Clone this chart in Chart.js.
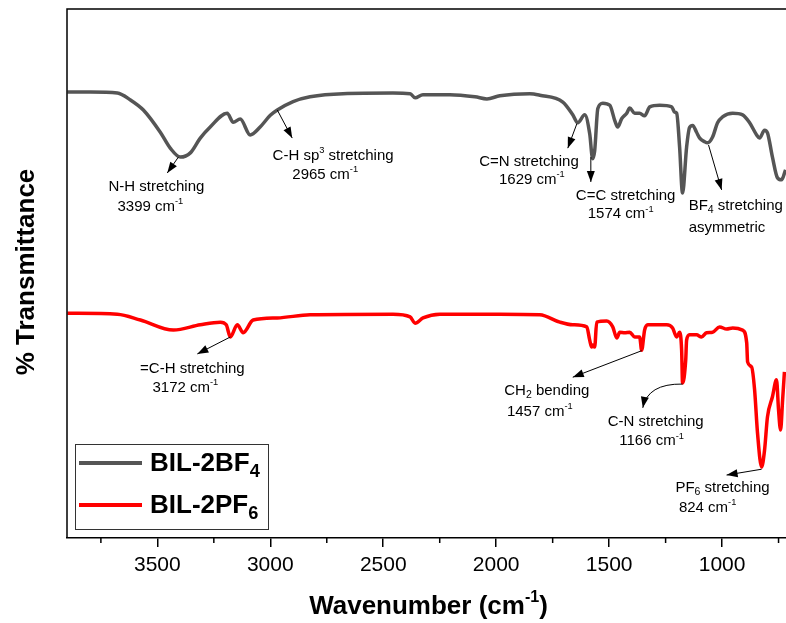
<!DOCTYPE html>
<html><head><meta charset="utf-8">
<script src="https://cdn.jsdelivr.net/npm/chart.js@4/dist/chart.umd.min.js"></script>
<style>html,body{margin:0;padding:0;background:#fff;}canvas{display:block;}</style>
</head><body>
<canvas id="c" width="786" height="623"></canvas>
<script>
// ---- data ----
const bf4Wn = [3898,3796,3677,3619,3562,3487,3443,3398,3354,3310,3266,3191,3164,3133,3089,3045,3000,2969,2899,2824,2678,2457,2381,2359,2324,2205,2094,2041,1984,1851,1807,1705,1661,1639,1608,1586,1573,1564,1550,1528,1497,1475,1462,1444,1422,1409,1387,1365,1343,1320,1276,1223,1210,1201,1188,1175,1157,1144,1130,1113,1099,1077,1064,1042,1020,998,953,909,878,847,834,812,799,777,755,737,719];
const bf4T  = [84.3,84.3,84.1,82.8,80.9,76.7,73.7,72.0,72.8,75.6,77.7,80.3,78.6,79.2,76.2,77.7,79.9,80.9,82.5,83.4,84.0,84.1,84.0,83.2,83.8,83.8,83.4,83.0,83.6,84.0,83.7,82.4,80.0,78.5,80.0,76.4,71.7,73.2,81.2,82.2,81.8,78.9,77.7,79.3,80.3,81.3,80.3,80.3,79.8,81.5,81.8,81.5,80.5,80.3,73.9,65.2,73.9,77.6,78.0,76.7,75.6,74.9,74.7,75.8,78.5,79.6,80.3,80.0,78.5,76.2,75.6,77.1,76.6,72.0,68.1,67.7,69.6];
const pf6Wn = [3898,3677,3575,3429,3310,3221,3195,3177,3146,3120,3076,2969,2824,2457,2381,2359,2324,2249,1984,1807,1718,1661,1599,1586,1577,1573,1564,1555,1511,1484,1466,1453,1431,1409,1387,1365,1356,1343,1329,1245,1219,1201,1188,1179,1175,1161,1157,1144,1113,1091,1069,1042,1011,980,953,909,891,887,869,856,843,825,812,799,777,759,750,741,732,724];
const pf6T  = [42.5,42.3,41.2,39.3,40.3,40.8,40.3,38.0,40.3,38.8,41.2,41.6,42.2,42.3,41.8,40.6,41.6,42.3,42.3,42.2,40.8,40.3,39.9,37.4,36.1,36.5,36.1,40.8,41.0,39.9,37.8,38.9,38.8,38.9,38.0,38.0,35.5,39.3,40.3,40.3,39.7,38.0,38.9,35.5,29.3,33.6,37.4,38.4,38.4,38.0,38.8,38.9,39.9,39.5,39.7,39.3,36.9,33.3,32.3,28.0,19.8,13.4,16.6,22.9,26.7,29.9,24.2,20.4,26.1,31.4];
const seriesNames = ['BIL-2BF_{4}', 'BIL-2PF_{6}'];
const seriesColors = ['#555555', '#ff0000'];
const majorTicks = [3500, 3000, 2500, 2000, 1500, 1000];
const minorTicks = [3750, 3250, 2750, 2250, 1750, 1250, 750];
const xTitle = 'Wavenumber (cm^{-1})';
const yTitle = '% Transmittance';
// annotations: arrow start/end in data space (wavenumber, %T), label lines and label anchor
const annotations = [
  {from:[3407,72.0], to:[3456,69.0], lines:['N-H stretching','3399 cm^{-1}'], at:[[3504,66.4],[3531,62.6]], align:'center'},
  {from:[2969,80.9], to:[2903,75.6], lines:['C-H sp^{3} stretching','2965 cm^{-1}'], at:[[2722,72.2],[2757,68.6]], align:'center'},
  {from:[1643,78.3], to:[1683,73.7], lines:['C=N stretching','1629 cm^{-1}'], at:[[1855,71.1],[1842,67.7]], align:'center'},
  {from:[1581,72.0], to:[1581,67.3], lines:['C=C stretching','1574 cm^{-1}'], at:[[1427,64.7],[1449,61.2]], align:'center'},
  {from:[1060,74.3], to:[1002,65.8], lines:['BF_{4} stretching','asymmetric'], at:[[1148,62.8],[1148,58.6]], align:'left'},
  {from:[3177,38.0], to:[3323,34.8], lines:['=C-H stretching','3172 cm^{-1}'], at:[[3345,31.9],[3376,28.4]], align:'center'},
  {from:[1356,35.4], to:[1661,30.4], lines:['CH_{2} bending','1457 cm^{-1}'], at:[[1776,27.8],[1807,23.8]], align:'center'},
  {from:[1175,29.1], to:[1351,24.6], ctrl:[1330,29.2], lines:['C-N stretching','1166 cm^{-1}'], at:[[1294,21.9],[1312,18.3]], align:'center'},
  {from:[825,13.0], to:[980,11.9], lines:['PF_{6} stretching','824 cm^{-1}'], at:[[998,9.5],[1064,5.7]], align:'center'}
];

const FONT = "'Liberation Sans', Arial, Helvetica, sans-serif";

function toPts(wn, t){ return wn.map((w,i)=>({x:w, y:t[i]})); }

function parseRich(s){
  const parts=[]; let i=0, buf='';
  while(i<s.length){
    const c=s[i];
    if((c==='^'||c==='_') && s[i+1]==='{'){
      if(buf){parts.push({t:buf,m:0});buf='';}
      const j=s.indexOf('}',i);
      parts.push({t:s.slice(i+2,j), m: c==='^'?-1:1});
      i=j+1;
    } else { buf+=c; i++; }
  }
  if(buf) parts.push({t:buf,m:0});
  return parts;
}
function drawRich(ctx, s, x, y, size, bold, align, color){
  const parts=parseRich(s);
  const w8 = bold?'bold ':'';
  let total=0;
  parts.forEach(p=>{
    const fs = p.m===0?size:(p.m>0?size*0.7:size*0.62);
    ctx.font = w8+fs+'px '+FONT;
    p.w = ctx.measureText(p.t).width; p.fs=fs; total+=p.w;
  });
  let cx = align==='center'? x-total/2 : (align==='right'? x-total : x);
  ctx.fillStyle=color||'#000';
  ctx.textBaseline='middle'; ctx.textAlign='left';
  parts.forEach(p=>{
    ctx.font = w8+p.fs+'px '+FONT;
    const dy = p.m===0?0:(p.m<0?-size*0.35:size*0.3);
    ctx.fillText(p.t, cx, y+dy);
    cx+=p.w;
  });
}
function head(ctx, fx, fy, tx, ty){
  const a=Math.atan2(ty-fy, tx-fx), L=11, W=4;
  ctx.beginPath();
  ctx.moveTo(tx,ty);
  ctx.lineTo(tx-L*Math.cos(a)+W*Math.sin(a), ty-L*Math.sin(a)-W*Math.cos(a));
  ctx.lineTo(tx-L*Math.cos(a)-W*Math.sin(a), ty-L*Math.sin(a)+W*Math.cos(a));
  ctx.closePath(); ctx.fill();
}

const decor = {
  id:'decor',
  afterDraw(chart){
    const ctx=chart.ctx, a=chart.chartArea, xs=chart.scales.x, ys=chart.scales.y;
    ctx.save();
    // frame top & left
    ctx.strokeStyle='#000'; ctx.lineWidth=1.5;
    ctx.beginPath();
    ctx.moveTo(a.left, a.bottom); ctx.lineTo(a.left, a.top); ctx.lineTo(a.right+2, a.top);
    ctx.stroke();
    // minor ticks
    minorTicks.forEach(w=>{
      const px=xs.getPixelForValue(w);
      ctx.beginPath(); ctx.moveTo(px, a.bottom); ctx.lineTo(px, a.bottom+5); ctx.stroke();
    });
    // annotations
    ctx.lineWidth=1; ctx.strokeStyle='#000'; ctx.fillStyle='#000';
    annotations.forEach(an=>{
      const fx=xs.getPixelForValue(an.from[0]), fy=ys.getPixelForValue(an.from[1]);
      const tx=xs.getPixelForValue(an.to[0]), ty=ys.getPixelForValue(an.to[1]);
      ctx.beginPath(); ctx.moveTo(fx,fy);
      if(an.ctrl){
        const cx=xs.getPixelForValue(an.ctrl[0]), cy=ys.getPixelForValue(an.ctrl[1]);
        ctx.quadraticCurveTo(cx,cy,tx,ty); ctx.stroke();
        head(ctx,cx,cy,tx,ty);
      } else {
        ctx.lineTo(tx,ty); ctx.stroke();
        head(ctx,fx,fy,tx,ty);
      }
      an.lines.forEach((ln,i)=>{
        const px=xs.getPixelForValue(an.at[i][0]), py=ys.getPixelForValue(an.at[i][1]);
        drawRich(ctx, ln, px, py, 15, false, an.align);
      });
    });
    // legend
    ctx.strokeStyle='#333'; ctx.lineWidth=1;
    ctx.strokeRect(75.5, 444.5, 193, 85);
    chart.data.datasets.forEach((ds,i)=>{
      const y = 463 + i*42;
      ctx.strokeStyle=ds.borderColor; ctx.lineWidth=4;
      ctx.beginPath(); ctx.moveTo(79,y); ctx.lineTo(142,y); ctx.stroke();
      drawRich(ctx, seriesNames[i], 150, y+1, 26, true, 'left');
    });
    // axis titles
    drawRich(ctx, xTitle, (a.left+a.right)/2+2, 607, 26, true, 'center');
    ctx.translate(27, 272); ctx.rotate(-Math.PI/2);
    drawRich(ctx, yTitle, 0, 0, 26, true, 'center');
    ctx.restore();
  }
};

new Chart(document.getElementById('c'), {
  type:'line',
  data:{ datasets:[
    {label:'BIL-2BF4', data:toPts(bf4Wn,bf4T), borderColor:seriesColors[0], borderWidth:3.5, pointRadius:0, cubicInterpolationMode:'monotone'},
    {label:'BIL-2PF6', data:toPts(pf6Wn,pf6T), borderColor:seriesColors[1], borderWidth:3.5, pointRadius:0, cubicInterpolationMode:'monotone'}
  ]},
  options:{
    responsive:false, animation:false, devicePixelRatio:1,
    layout:{padding:{left:67, top:9, right:0, bottom:0}},
    plugins:{legend:{display:false}, tooltip:{enabled:false}},
    scales:{
      x:{type:'linear', reverse:true, min:717, max:3900,
        afterBuildTicks:(s)=>{ s.ticks = majorTicks.map(v=>({value:v})); },
        afterFit:(s)=>{ s.height=85; },
        ticks:{color:'#000', font:{family:FONT, size:21}, padding:6, maxRotation:0, autoSkip:false,
          callback:(v)=>String(v)},
        grid:{drawOnChartArea:false, drawTicks:true, tickLength:9, color:'#000', lineWidth:1.5},
        border:{color:'#000', width:1.5}
      },
      y:{display:false, min:0, max:100}
    }
  },
  plugins:[decor]
});
</script>
</body></html>
